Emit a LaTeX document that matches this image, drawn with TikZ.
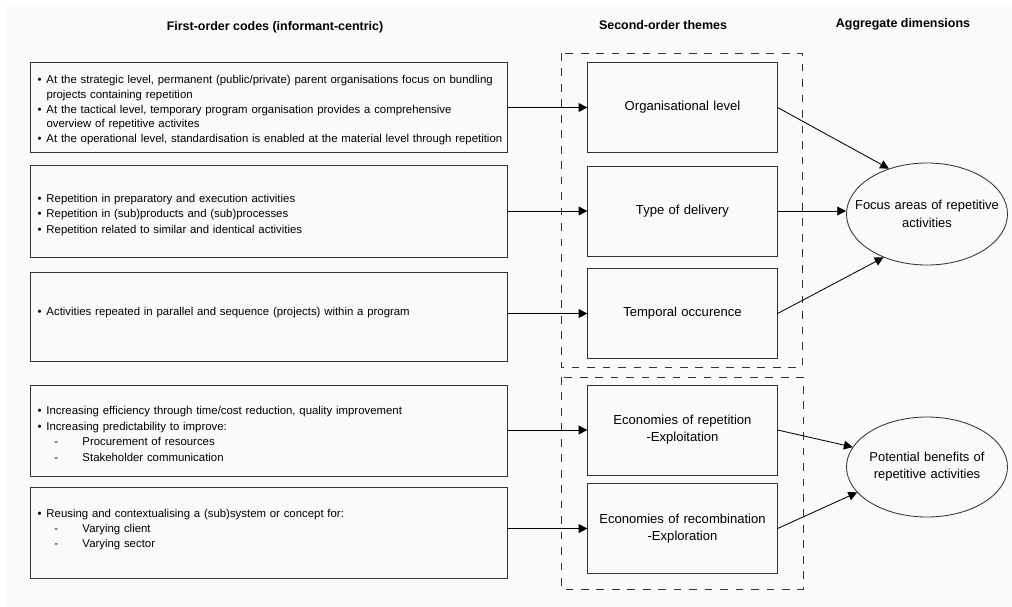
\documentclass[tikz,border=0pt]{standalone}
\usepackage{fontspec}
\setmainfont{Liberation Sans}
\usetikzlibrary{arrows.meta,shapes.geometric}

% bullet and dash items for the code boxes
\newcommand{\bitem}[1]{\par\hangindent=0.375cm\hangafter=1\noindent\hspace*{0.15cm}\makebox[0.225cm][l]{\textbullet}#1}
\newcommand{\ditem}[1]{\par\hangindent=1.275cm\hangafter=1\noindent\hspace*{0.575cm}\makebox[0.7cm][l]{-}#1}

\begin{document}
\begin{tikzpicture}[>={Triangle[length=2.2mm,width=2.2mm]}, line width=0.6pt]
\tikzset{fobox/.style={draw=black!80, rectangle, minimum width=11.925cm, minimum height=2.275cm, text width=11.85cm, inner xsep=0.0375cm, align=left, font=\fontsize{8.1}{11}\selectfont},
thbox/.style={draw=black!80, rectangle, minimum width=4.625cm, minimum height=2.25cm, text width=4.5cm, align=center, font=\fontsize{9.3}{12}\selectfont},
dimel/.style={draw=black!80, ellipse, minimum width=4.025cm, minimum height=2.55cm, text width=3.95cm, inner xsep=-0.6cm, align=center, font=\fontsize{9.2}{12.3}\selectfont},
headtxt/.style={font=\bfseries\fontsize{8.85}{10}\selectfont},
grp/.style={draw=black!80, dash pattern=on 5.5pt off 5.5pt}}

\useasboundingbox (0,0) rectangle (25.3,-15.175);
\fill[white] (0,0) rectangle (25.3,-15.175);
\fill[gray!4] (0.125,-0.125) rectangle (25.3,-15.175);

% Column headers
\node[headtxt] (hfirst) at (6.875,-0.67) {First-order codes (informant-centric)};
\node[headtxt] (hsecond) at (16.575,-0.62) {Second-order themes};
\node[headtxt] (haggr) at (22.575,-0.62) {Aggregate dimensions};

% First-order codes
\node[fobox, minimum height=2.25cm, font=\fontsize{8.1}{10.4}\selectfont] (levels) at (6.7125,-2.675)
{\bitem{At the strategic level, permanent (public/private) parent organisations focus on bundling\newline projects containing repetition}
\bitem{At the tactical level, temporary program organisation provides a comprehensive\newline overview of repetitive activites}
\bitem{At the operational level, standardisation is enabled at the material level through repetition}};
\node[fobox, minimum height=2.3cm] (repet) at (6.7125,-5.275)
{\bitem{Repetition in preparatory and execution activities}
\bitem{Repetition in (sub)products and (sub)processes}
\bitem{Repetition related to similar and identical activities}};
\node[fobox, minimum height=2.225cm] (parallel) at (6.7125,-7.9125)
{\bitem{Activities repeated in parallel and sequence (projects) within a program}\par\noindent\rule{0pt}{0.35cm}};
\node[fobox] (effic) at (6.7125,-10.7625)
{\bitem{Increasing efficiency through time/cost reduction, quality improvement}
\bitem{Increasing predictability to improve:}
\ditem{Procurement of resources}
\ditem{Stakeholder communication}};
\node[fobox] (reuse) at (6.7125,-13.3125)
{\bitem{Reusing and contextualising a (sub)system or concept for:}
\ditem{Varying client}
\ditem{Varying sector}\par\noindent\rule{0pt}{0.2cm}};

% Second-order themes
\draw[grp] (14.025,-1.325) rectangle (20.05,-9.175);
\draw[grp] (14.025,-9.425) rectangle (20.075,-14.725);

\node[thbox] (orglvl) at (17.0625,-2.6875) {Organisational level};
\node[thbox] (delivery) at (17.0625,-5.275) {Type of delivery};
\node[thbox] (temporal) at (17.0625,-7.8375) {Temporal occurence};
\node[thbox] (exploit) at (17.0625,-10.75) {Economies of repetition\\-Exploitation};
\node[thbox] (explore) at (17.0625,-13.2125) {Economies of recombination\\-Exploration};

% Aggregate dimensions
\node[dimel] (focus) at (23.175,-5.35) {Focus areas of repetitive\\activities};
\node[dimel, minimum height=2.5cm] (benefit) at (23.175,-11.675) {Potential benefits of\\repetitive activities};

% Connections
\draw[->] (levels.east |- orglvl.west) -- (orglvl.west);
\draw[->] (repet.east |- delivery.west) -- (delivery.west);
\draw[->] (parallel.east |- temporal.west) -- (temporal.west);
\draw[->] (effic.east |- exploit.west) -- (exploit.west);
\draw[->] (reuse.east |- explore.west) -- (explore.west);

\draw[->] (orglvl.east) -- (focus.130);
\draw[->] (delivery.east) -- (delivery.east -| focus.west);
\draw[->] (temporal.east) -- (focus.225);
\draw[->] (exploit.east) -- (benefit.165);
\draw[->] (explore.east) -- (benefit.200);

\end{tikzpicture}
\end{document}
